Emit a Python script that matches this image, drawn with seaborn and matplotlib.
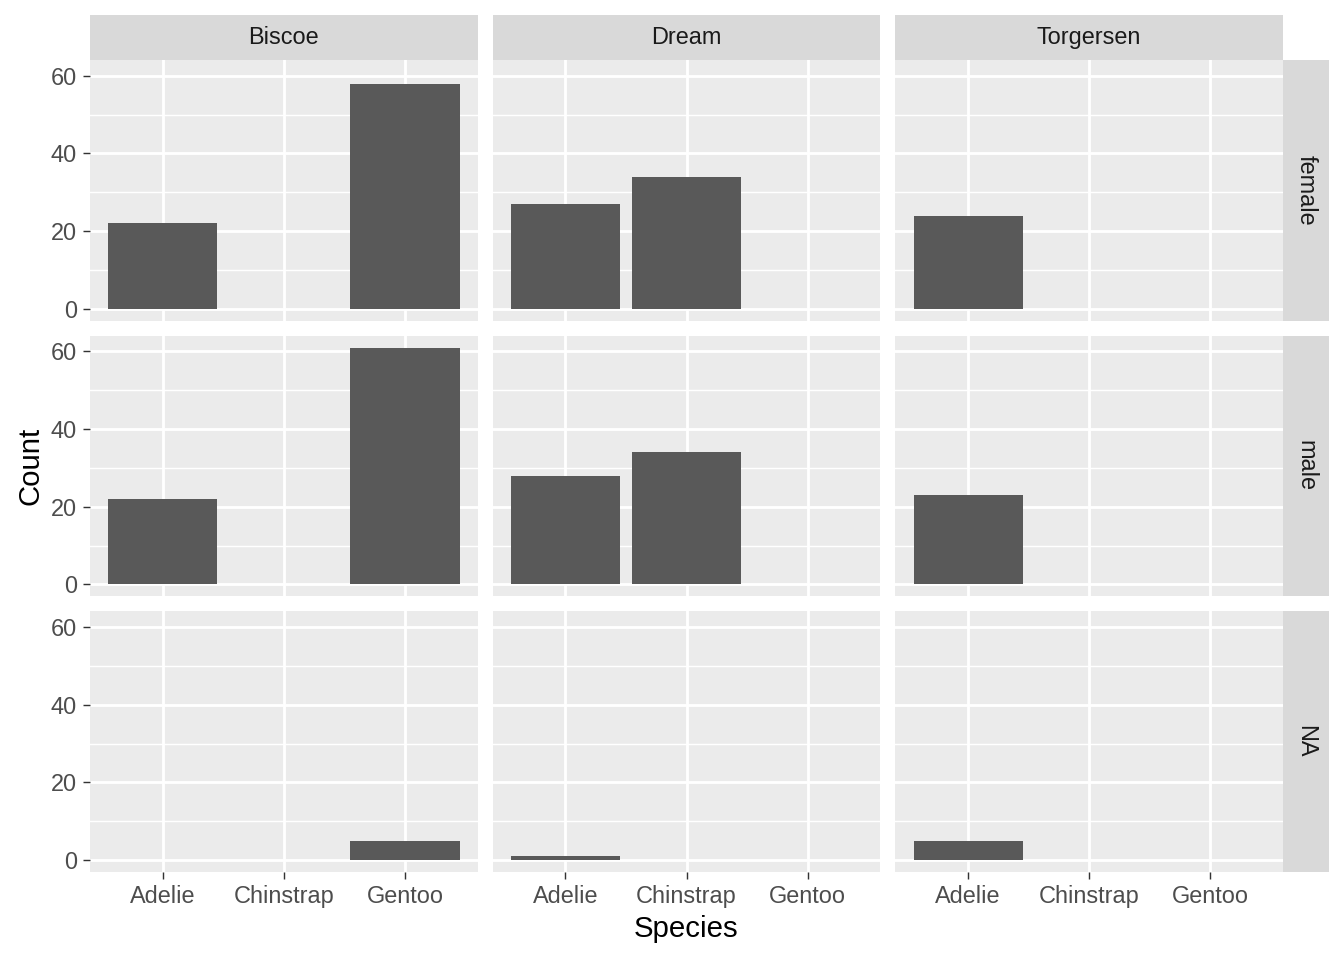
import numpy as np
import pandas as pd
import seaborn as sns
import matplotlib.pyplot as plt
from matplotlib.patches import Rectangle
from matplotlib.ticker import MultipleLocator

# penguin counts by island / sex / species
islands = ["Biscoe", "Dream", "Torgersen"]
sexes = ["female", "male", "NA"]
species = ["Adelie", "Chinstrap", "Gentoo"]

biscoe_counts = {"female": [22, 0, 58], "male": [22, 0, 61], "NA": [0, 0, 5]}
dream_counts = {"female": [27, 34, 0], "male": [28, 34, 0], "NA": [1, 0, 0]}
torgersen_counts = {"female": [24, 0, 0], "male": [23, 0, 0], "NA": [5, 0, 0]}

counts = {"Biscoe": biscoe_counts, "Dream": dream_counts, "Torgersen": torgersen_counts}

rows = []
for isl in islands:
    for sx in sexes:
        for sp, n in zip(species, counts[isl][sx]):
            rows.append({"island": isl, "sex": sx, "species": sp, "count": n})
data = pd.DataFrame(rows)

plt.rcParams["font.family"] = ["Liberation Sans", "DejaVu Sans"]

fig, axes = plt.subplots(3, 3, figsize=(7, 5), dpi=192, sharex=True, sharey=True)
fig.subplots_adjust(left=0.067, right=0.9546, top=0.9375, bottom=0.0917,
                    wspace=0.0387, hspace=0.0575)

for i, sx in enumerate(sexes):
    for j, isl in enumerate(islands):
        ax = axes[i, j]
        sub = data[(data["island"] == isl) & (data["sex"] == sx)]
        sub = sub[sub["count"] > 0]
        ax.set_facecolor("#EBEBEB")
        sns.barplot(data=sub, x="species", y="count", order=species, color="#595959",
                    saturation=1, width=0.9, errorbar=None, ax=ax, zorder=3)
        ax.set_xlim(-0.6, 2.6)
        ax.set_ylim(-3.05, 64.05)
        ax.yaxis.set_major_locator(MultipleLocator(20))
        ax.yaxis.set_minor_locator(MultipleLocator(10))
        ax.grid(which="major", color="white", linewidth=1.07, zorder=1)
        ax.grid(which="minor", axis="y", color="white", linewidth=0.53, zorder=1)
        ax.set_axisbelow(True)
        for s in ax.spines.values():
            s.set_visible(False)
        ax.tick_params(which="major", length=2.75, width=0.53, color="#333333",
                       labelsize=8.8, labelcolor="#4D4D4D", pad=2.2)
        ax.tick_params(which="minor", length=0)
        ax.set_xlabel("")
        ax.set_ylabel("")
        if i < 2:
            ax.tick_params(axis="x", length=0)
        if j > 0:
            ax.tick_params(axis="y", length=0)

        # strips
        if i == 0:
            ax.add_patch(Rectangle((0, 1), 1, 0.172, transform=ax.transAxes,
                                   facecolor="#D9D9D9", edgecolor="none", clip_on=False))
            ax.text(0.5, 1.086, isl, transform=ax.transAxes, ha="center", va="center",
                    fontsize=8.8, color="#1A1A1A")
        if j == 2:
            ax.add_patch(Rectangle((1, 0), 0.1186, 1, transform=ax.transAxes,
                                   facecolor="#D9D9D9", edgecolor="none", clip_on=False))
            ax.text(1.0593, 0.5, sx, transform=ax.transAxes, ha="center", va="center",
                    rotation=-90, fontsize=8.8, color="#1A1A1A")

fig.text(0.5108, 0.018, "Species", ha="center", va="bottom", fontsize=11)
fig.text(0.012, 0.5146, "Count", ha="left", va="center", rotation=90, fontsize=11)

plt.savefig("out.png", dpi=192)
